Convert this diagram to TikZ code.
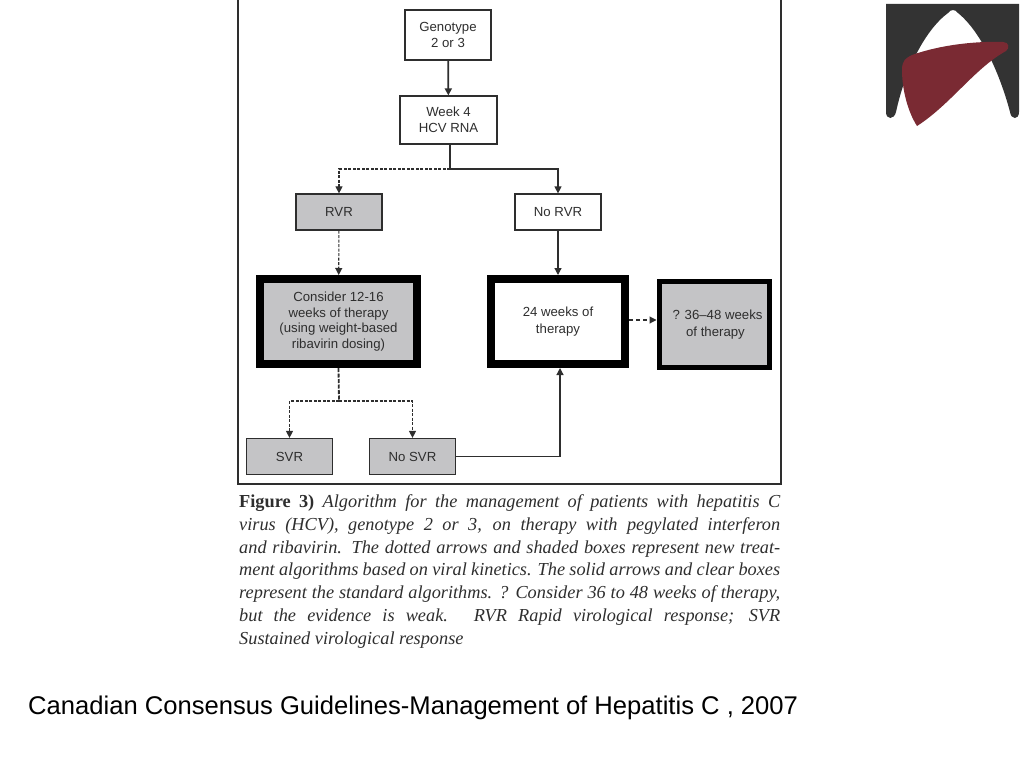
\documentclass[tikz,border=0pt]{standalone}
\usepackage{fontspec}
\setmainfont{Liberation Sans}
\newfontfamily\captionserif{Liberation Serif}
\usetikzlibrary{arrows.meta}
\definecolor{ink}{HTML}{2E2E2E}
\definecolor{shade}{HTML}{C4C4C6}
\definecolor{logodark}{HTML}{333333}
\definecolor{logored}{HTML}{7A2A33}

\begin{document}
\begin{tikzpicture}[
  x=1pt, y=-1pt,
  box/.style={rectangle, draw=ink, line width=1.2pt, align=center, inner sep=0pt, text=ink,
    font=\fontsize{13.2}{15.5}\selectfont},
  small/.style={box, minimum width=86pt, minimum height=36pt},
  shaded/.style={fill=shade},
  heavy/.style={box, draw=black, line width=8pt},
  medium/.style={box, draw=black, line width=5pt},
  solidarrow/.style={draw=ink, line width=1.2pt, -{Triangle[length=7pt,width=7pt]}},
  dotarrow/.style={draw=ink, line width=1.1pt, -{Triangle[length=7pt,width=7pt]}, dash pattern=on 3pt off 1.5pt}]

  \useasboundingbox (0,0) rectangle (1024,768);

  % --- frame round the flow chart, open at the top of the page ---
  \draw[ink, line width=1.3pt] (238,-3) -- (238,484) -- (781,484) -- (781,-3);

  % --- boxes ---
  \node[box, minimum width=86pt, minimum height=50pt] (genotype) at (448,35) {Genotype\\2 or 3};
  \node[box, minimum width=97pt, minimum height=48pt] (week) at (448.5,120) {Week 4\\HCV RNA};
  \node[small, shaded] (rvr) at (339,212) {RVR};
  \node[small] (norvr) at (558,212) {No RVR};
  \node[heavy, shaded, minimum width=157pt, minimum height=85pt] (consider) at (338.5,321.5)
    {Consider 12-16\\weeks of therapy\\(using weight-based\\ribavirin dosing)};
  \node[heavy, minimum width=134pt, minimum height=85pt] (weeks24) at (558,321.5)
    {24 weeks of\\[1pt]therapy\\[-13pt]\mbox{}};
  \node[medium, shaded, minimum width=110pt, minimum height=86pt] (weeks36) at (714,324.5)
    {\hspace*{7pt}? 36--48 weeks\\[1pt]\hspace*{3pt}of therapy};
  \node[small, shaded] (svr) at (289.5,456.5) {SVR};
  \node[small, shaded] (nosvr) at (412.5,456.5) {No SVR};

  % --- branch points ---
  \coordinate (split) at (450,169);
  \coordinate (fork) at (339,401);

  % --- connectors, dotted = new algorithm ---
  \draw[solidarrow, line width=1.7pt] (genotype) -- (week);
  \draw[draw=ink, line width=1.2pt] (week.south -| split) -- (split);
  \draw[dotarrow] (split) -| (rvr.north);
  \draw[solidarrow] (split) -| (norvr.north);
  \draw[dotarrow] (rvr) -- (consider);
  \draw[solidarrow] (norvr) -- (weeks24);
  \draw[dotarrow, dash pattern=on 4pt off 3pt] (weeks24.east |- 0,320) -- (weeks36.west |- 0,320);
  \draw[draw=ink, line width=1.8pt, dash pattern=on 4pt off 1.5pt] (consider.south) -- (fork);
  \draw[dotarrow] (fork) -| (svr.north);
  \draw[dotarrow] (fork) -| (nosvr.north);
  \draw[solidarrow] (nosvr.east) -| ([xshift=2pt]weeks24.south);

  % --- caption of the figure, justified line by line ---
  \node[anchor=north west, inner sep=0pt, text=ink, text width=541pt, align=justify] (caption) at (239,494.5)
    {\captionserif\fontsize{18.3}{22.8}\selectfont
    \textbf{Figure 3)} \textit{Algorithm for the management of patients with hepatitis C\linebreak
    virus (HCV), genotype 2 or 3, on therapy with pegylated interferon\linebreak
    and ribavirin. The dotted arrows and shaded boxes represent new treat-\linebreak
    ment algorithms based on viral kinetics. The solid arrows and clear boxes\linebreak
    represent the standard algorithms. ? Consider 36 to 48 weeks of therapy,\linebreak
    but the evidence is weak. RVR Rapid virological response; SVR\linebreak
    Sustained virological response}\par};

  % --- line under the slide ---
  \node[anchor=base west, inner sep=0pt, text=black, font=\fontsize{25.6}{30}\selectfont] (source) at (28,714)
    {Canadian Consensus Guidelines-Management of Hepatitis C , 2007};

  % --- logo, top right ---
  \fill[logodark] (886,4) -- (1019,4) -- (1019,112)
    .. controls (1019,120) and (1011,120) .. (1010,112)
    .. controls (1003,85) and (985,35) .. (958,13)
    .. controls (955,9) and (951,9) .. (948,13)
    .. controls (925,30) and (905,70) .. (896,112)
    .. controls (894,120) and (886,120) .. (886,112) -- cycle;
  \fill[logored] (1003,42)
    .. controls (1009,42) and (1010,48) .. (1006,51)
    .. controls (975,68) and (950,105) .. (917,126)
    .. controls (908,112) and (902,90) .. (902,70)
    .. controls (902,60) and (906,58) .. (912,55)
    .. controls (940,45) and (975,41) .. (1003,42) -- cycle;

\end{tikzpicture}
\end{document}
